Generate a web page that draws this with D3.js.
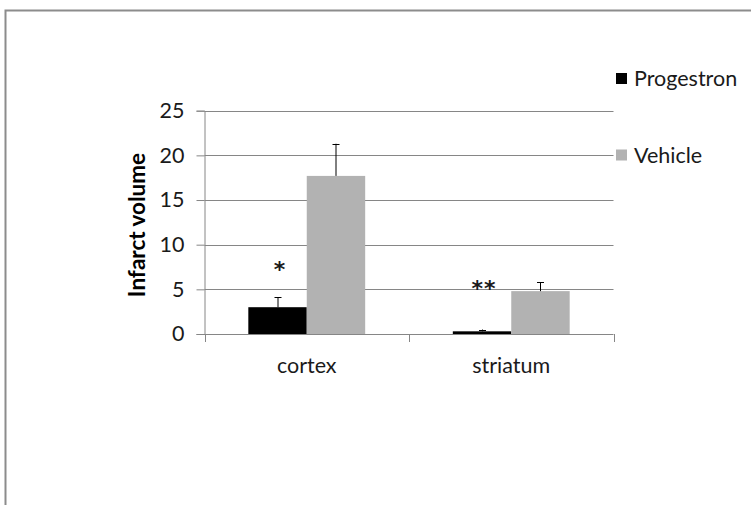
<!DOCTYPE html>
<html>
<head>
<meta charset="utf-8">
<script src="https://cdn.jsdelivr.net/npm/d3@7"></script>
<style>
  html, body { margin: 0; padding: 0; background: #fff; }
  svg { display: block; }
  text { font-family: Lato, "Open Sans", sans-serif; }
</style>
</head>
<body>
<svg id="chart" width="751" height="505"></svg>
<script>
const categories = ["cortex", "striatum"];
const seriesNames = ["Progestron", "Vehicle"];
const progestron = [3.0, 0.3];
const vehicle = [17.7, 4.8];
const progestronErr = [1.1, 0.2];
const vehicleErr = [3.6, 1.0];
const significance = ["*", "**"];
const significanceLevel = [7.7, 5.6];
const yTicks = [0, 5, 10, 15, 20, 25];
const colors = ["#000000", "#b2b2b2"];

const svg = d3.select("#chart");

// outer chart border (top and left visible)
svg.append("rect")
  .attr("x", 5.5).attr("y", 10.5)
  .attr("width", 800).attr("height", 600)
  .attr("fill", "none").attr("stroke", "#8c8c8c").attr("stroke-width", 2);

const plot = { left: 204.5, right: 613.5, top: 110.7, bottom: 334 };

const x = d3.scaleBand().domain(categories).range([plot.left, plot.right]).paddingInner(0).paddingOuter(0);
const xs = d3.scaleBand().domain(seriesNames).range([0, x.bandwidth()]).paddingInner(0).paddingOuter(0.75);
const y = d3.scaleLinear().domain([0, 25]).range([plot.bottom, plot.top]);

// y axis
const yAxis = d3.axisLeft(y).tickValues(yTicks).tickSize(8).tickPadding(12).tickFormat(d3.format("d"));
const yG = svg.append("g").attr("transform", `translate(${plot.left},0)`).call(yAxis);
yG.select(".domain").attr("stroke", "#868686");
yG.selectAll(".tick line").attr("stroke", "#868686");
yG.selectAll(".tick text").attr("font-size", 21.5).attr("fill", "#1a1a1a").style("font-family", "Lato, sans-serif");

// gridlines
svg.append("g").selectAll("line").data(yTicks.filter(d => d > 0)).join("line")
  .attr("x1", plot.left).attr("x2", plot.right)
  .attr("y1", d => Math.round(y(d)) + 0.5).attr("y2", d => Math.round(y(d)) + 0.5)
  .attr("stroke", "#868686").attr("stroke-width", 1);

// bars
const data = categories.map((c, i) => ({
  cat: c,
  vals: [
    { s: seriesNames[0], v: progestron[i], e: progestronErr[i], c: colors[0] },
    { s: seriesNames[1], v: vehicle[i], e: vehicleErr[i], c: colors[1] }
  ]
}));

const groups = svg.append("g").selectAll("g").data(data).join("g")
  .attr("transform", d => `translate(${x(d.cat)},0)`);

groups.selectAll("rect").data(d => d.vals).join("rect")
  .attr("x", d => xs(d.s))
  .attr("width", xs.bandwidth())
  .attr("y", d => y(d.v))
  .attr("height", d => y(0) - y(d.v))
  .attr("fill", d => d.c);

// error bars (upper only)
groups.selectAll("g.err").data(d => d.vals).join("g").attr("class", "err").each(function(d) {
  const g = d3.select(this);
  const cx = Math.round(xs(d.s) + xs.bandwidth() / 2) + 0.5;
  g.append("line").attr("x1", cx).attr("x2", cx).attr("y1", y(d.v)).attr("y2", y(d.v + d.e))
    .attr("stroke", "#000").attr("stroke-width", 1);
  g.append("line").attr("x1", cx - 3.5).attr("x2", cx + 3.5).attr("y1", Math.round(y(d.v + d.e)) + 0.5).attr("y2", Math.round(y(d.v + d.e)) + 0.5)
    .attr("stroke", "#000").attr("stroke-width", 1);
});

// significance markers
groups.append("text")
  .attr("x", d => xs(seriesNames[0]) + xs.bandwidth() / 2 + 2)
  .attr("y", (d, i) => y(significanceLevel[i]) + 12)
  .attr("text-anchor", "middle")
  .style("font-family", "'DejaVu Sans', sans-serif")
  .attr("font-size", 22).attr("font-weight", "bold").attr("fill", "#1a1a1a")
  .attr("letter-spacing", (d, i) => i === 1 ? 1 : 0)
  .text((d, i) => significance[i]);

// x axis
svg.append("line").attr("x1", plot.left).attr("x2", plot.right)
  .attr("y1", plot.bottom + 0.5).attr("y2", plot.bottom + 0.5).attr("stroke", "#868686");
const xTickPos = [plot.left, plot.left + x.bandwidth(), plot.right];
svg.append("g").selectAll("line").data(xTickPos).join("line")
  .attr("x1", d => Math.round(d) + 0.5).attr("x2", d => Math.round(d) + 0.5)
  .attr("y1", plot.bottom).attr("y2", plot.bottom + 8)
  .attr("stroke", "#868686");
svg.append("g").selectAll("text").data(categories).join("text")
  .attr("x", d => x(d) + x.bandwidth() / 2)
  .attr("y", 373)
  .attr("text-anchor", "middle")
  .attr("font-size", 21.5).attr("fill", "#1a1a1a")
  .text(d => d);

// y axis title
svg.append("text")
  .attr("transform", `translate(145,225) rotate(-90)`)
  .attr("text-anchor", "middle")
  .attr("font-size", 22.5).attr("font-weight", "bold").attr("fill", "#000")
  .text("Infarct volume");

// legend
const legendY = [78.5, 155];
const legend = svg.append("g").selectAll("g").data(seriesNames).join("g")
  .attr("transform", (d, i) => `translate(616,${legendY[i]})`);
legend.append("rect").attr("x", 0).attr("y", -5.5).attr("width", 11).attr("height", 11)
  .attr("fill", (d, i) => colors[i]);
legend.append("text").attr("x", 18).attr("y", 0).attr("dy", "0.35em")
  .attr("font-size", 21.5).attr("fill", "#1a1a1a").text(d => d);
</script>
</body>
</html>
